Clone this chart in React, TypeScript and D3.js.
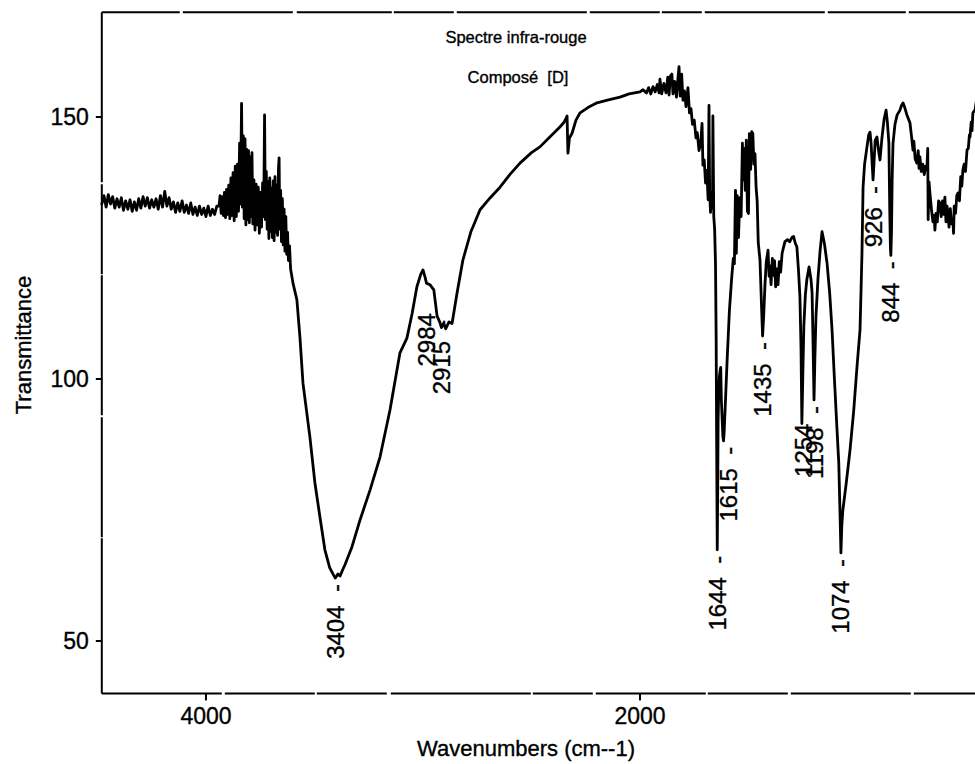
import React from 'react';
import * as d3 from 'd3';

// Transmittance spectrum, [wavenumber cm-1, transmittance], high to low wavenumber.
const baselineRegion: [number, number][] = [
  [4480, 133.4], [4470, 135.0], [4460, 132.8], [4450, 135.2], [4440, 133.4], [4430, 134.8],
  [4420, 132.6], [4410, 134.4], [4400, 132.8], [4390, 134.6], [4380, 132.2], [4370, 134.0],
  [4360, 132.4], [4350, 134.2], [4340, 132.0], [4330, 133.8], [4320, 132.2], [4310, 134.4],
  [4300, 132.6], [4290, 134.8], [4280, 133.0], [4270, 134.6], [4260, 132.6], [4250, 134.2],
  [4240, 132.8], [4230, 134.4], [4220, 132.4], [4210, 135.0], [4200, 132.8], [4190, 135.8],
  [4180, 133.0], [4170, 134.6], [4160, 132.4], [4150, 133.8], [4140, 131.8], [4130, 133.6],
  [4120, 132.0], [4110, 134.0], [4100, 131.8], [4090, 133.2], [4080, 131.6], [4070, 133.6],
  [4060, 131.4], [4050, 132.8], [4040, 131.2], [4030, 133.0], [4020, 131.4], [4010, 132.6],
  [4000, 131.0], [3990, 133.0], [3980, 131.2], [3970, 132.4], [3960, 131.4], [3950, 133.0],
];

const noisyRegion: [number, number][] = [
  [3940, 133.0], [3935, 135.0], [3930, 131.6], [3925, 134.8], [3920, 131.2], [3915, 135.6],
  [3910, 130.8], [3905, 136.2], [3900, 131.4], [3895, 137.0], [3890, 130.6], [3885, 138.4],
  [3880, 131.2], [3875, 139.4], [3870, 130.2], [3865, 140.6], [3860, 131.0], [3855, 141.0],
  [3850, 132.0], [3845, 145.0], [3841, 133.4], [3836, 152.6], [3832, 132.8], [3828, 146.4],
  [3824, 130.6], [3820, 145.8], [3816, 129.4], [3812, 143.8], [3808, 130.4], [3804, 143.6],
  [3800, 129.8], [3796, 142.4], [3792, 131.0], [3788, 143.2], [3784, 129.6], [3779, 138.0],
  [3774, 128.4], [3769, 137.2], [3764, 129.4], [3759, 136.6], [3754, 127.8], [3749, 135.6],
  [3744, 129.0], [3739, 137.4], [3734, 131.0], [3730, 150.4], [3726, 130.4], [3722, 139.6],
  [3718, 128.6], [3714, 137.6], [3710, 126.8], [3706, 138.4], [3702, 128.2], [3698, 136.4],
  [3694, 127.0], [3690, 137.8], [3686, 126.4], [3682, 138.6], [3678, 128.0], [3674, 137.0],
  [3670, 127.4], [3666, 140.0], [3663, 142.2], [3660, 128.6], [3656, 136.0], [3652, 126.2],
  [3648, 134.4], [3644, 125.6], [3640, 132.4], [3636, 124.4], [3632, 131.0], [3628, 123.8],
  [3624, 128.0], [3620, 122.6], [3615, 125.4], [3610, 121.0],
];

const ohBand: [number, number][] = [
  [3599, 118.3], [3581, 115.1], [3567, 108.0], [3553, 99.2], [3521, 88.9], [3498, 80.2],
  [3475, 73.7], [3452, 67.4], [3430, 64.0], [3415, 62.8], [3404, 62.0], [3392, 62.8],
  [3382, 62.4], [3370, 63.6], [3359, 64.6], [3327, 68.0], [3290, 73.1], [3244, 78.8],
  [3198, 85.1], [3152, 94.1], [3106, 105.0], [3074, 107.8], [3050, 112.5], [3028, 117.6],
  [3010, 120.0], [3000, 120.8], [2990, 119.4], [2984, 118.3], [2968, 118.0], [2950, 117.0],
  [2935, 112.0], [2922, 110.8], [2915, 109.8], [2905, 110.6], [2895, 109.6], [2880, 110.9],
  [2866, 110.6], [2843, 116.4], [2816, 122.7], [2780, 128.0], [2737, 132.3], [2690, 134.6],
  [2645, 136.6], [2600, 139.0], [2553, 141.2], [2500, 143.2], [2461, 144.3], [2420, 146.0],
  [2369, 148.1], [2350, 149.0], [2340, 149.8], [2336, 150.2], [2332, 143.1], [2325, 146.0],
  [2313, 146.9], [2295, 149.4], [2276, 150.8], [2240, 151.8], [2198, 152.7], [2150, 153.2],
  [2092, 153.8], [2050, 154.4], [2000, 154.8],
];

const carbonylRegion: [number, number][] = [
  [1986, 155.2], [1970, 154.6], [1960, 155.6], [1950, 154.4], [1940, 155.8], [1930, 154.8],
  [1920, 156.2], [1912, 154.6], [1908, 157.2], [1900, 154.4], [1890, 156.4], [1880, 154.6],
  [1872, 157.6], [1866, 154.2], [1860, 157.8], [1853, 158.2], [1848, 154.4], [1840, 156.8],
  [1832, 153.8], [1826, 157.0], [1820, 159.6], [1815, 154.0], [1808, 158.2], [1802, 153.2],
  [1795, 155.0], [1788, 152.0], [1779, 155.6], [1772, 150.8], [1765, 151.6], [1758, 148.6],
  [1750, 149.4], [1742, 146.0], [1736, 147.0], [1728, 143.6], [1720, 145.0], [1714, 148.8],
  [1710, 140.8], [1704, 141.8], [1698, 137.4], [1692, 139.8], [1686, 134.2], [1682, 152.2],
  [1679, 136.0], [1675, 131.8], [1670, 135.6], [1666, 132.6], [1664, 150.2], [1660, 131.0],
  [1656, 128.6], [1652, 122.0], [1649, 108.0], [1647, 90.0], [1645, 75.0], [1644, 67.4],
  [1642, 78.0], [1640, 92.0], [1637, 98.0], [1634, 100.5], [1630, 101.8], [1628, 102.2],
  [1625, 96.0], [1621, 92.0], [1618, 89.0], [1615, 88.2], [1612, 90.0], [1606, 96.0],
  [1598, 104.0], [1588, 113.0], [1578, 119.0], [1570, 123.0],
];

const fingerprintRegion: [number, number][] = [
  [1565, 122.0], [1560, 136.0], [1556, 124.0], [1552, 135.0], [1546, 127.0], [1540, 134.6],
  [1534, 131.0], [1528, 145.0], [1524, 138.0], [1520, 144.0], [1515, 136.0], [1510, 145.6],
  [1505, 132.0], [1500, 131.6], [1496, 146.8], [1490, 140.0], [1485, 147.2], [1480, 146.8],
  [1475, 141.0], [1470, 143.0], [1465, 136.6], [1460, 134.0], [1455, 126.0], [1447, 122.7],
  [1440, 114.0], [1435, 108.2], [1430, 112.0], [1424, 118.0], [1418, 122.4], [1410, 124.6],
  [1405, 119.6], [1401, 121.6], [1396, 118.0], [1390, 123.0], [1385, 119.8], [1380, 122.6],
  [1375, 117.6], [1369, 121.0], [1364, 118.0], [1358, 122.4], [1352, 120.4], [1345, 124.0],
  [1338, 125.2], [1332, 126.2], [1320, 126.6], [1310, 126.2], [1300, 127.0], [1292, 127.2],
  [1285, 126.0], [1277, 125.2], [1270, 121.0], [1263, 115.7], [1258, 106.0], [1254, 91.5],
  [1250, 100.0], [1245, 110.0], [1238, 116.0], [1231, 119.0], [1221, 121.4], [1212, 119.0],
  [1207, 116.5], [1203, 108.0], [1198, 96.0], [1194, 104.0], [1189, 112.0], [1180, 119.0],
  [1170, 124.5], [1161, 128.1], [1150, 125.8], [1138, 122.1], [1126, 116.5], [1115, 109.4],
  [1104, 100.0], [1092, 90.3], [1084, 84.0], [1078, 74.0], [1074, 66.8], [1070, 72.0],
  [1065, 75.0], [1050, 80.0], [1032, 86.5], [1015, 94.0], [1000, 102.3], [986, 109.4],
  [977, 124.1], [972, 136.6], [965, 141.0], [954, 144.3], [946, 146.6], [940, 147.1],
  [935, 145.0], [930, 141.0], [926, 138.0], [922, 141.0], [916, 145.6], [908, 146.2],
  [902, 144.0], [894, 141.8], [885, 146.0], [875, 149.6], [866, 151.3], [860, 149.0],
  [853, 145.0], [849, 132.0], [846, 125.0], [844, 123.6], [841, 128.0], [838, 138.0],
  [834, 145.0], [825, 148.6], [815, 150.4], [802, 151.3], [795, 152.2], [788, 152.7],
];

const lowRegion: [number, number][] = [
  [780, 151.8], [770, 150.4], [756, 148.9], [748, 146.0], [742, 143.7], [738, 145.4],
  [732, 142.0], [724, 141.2], [718, 143.6], [714, 140.2], [710, 142.4], [704, 139.6],
  [697, 141.0], [690, 139.0], [684, 140.6], [678, 139.9], [674, 144.0], [672, 130.4],
  [668, 137.6], [664, 135.5], [657, 132.4], [650, 130.0], [644, 131.2], [641, 128.4],
  [636, 131.6], [630, 130.0], [624, 134.0], [618, 133.6], [612, 131.0], [606, 134.0],
  [600, 131.4], [595, 134.7], [590, 130.0], [585, 133.0], [581, 131.7], [576, 129.0],
  [570, 132.5], [564, 129.6], [558, 130.3], [555, 127.8], [552, 133.0], [546, 131.6],
  [540, 135.0], [535, 135.5], [528, 134.0], [522, 138.6], [517, 136.8], [512, 139.9],
  [506, 141.0], [500, 139.6], [493, 143.7], [487, 144.0], [482, 146.6], [479, 146.2],
  [474, 149.0], [470, 147.4], [466, 150.8], [462, 151.0], [456, 151.3], [450, 153.0],
  [440, 154.0],
];

const spectrum: [number, number][] = [
  ...baselineRegion, ...noisyRegion, ...ohBand, ...carbonylRegion, ...fingerprintRegion, ...lowRegion,
];

// Annotated absorption bands
const peakWavenumbers = [3404, 2984, 2915, 1644, 1615, 1435, 1254, 1198, 1074, 926, 844];
const peakWithDash = [true, false, true, true, true, true, false, true, true, true, true];

const yTicks = [50, 100, 150];
const xTicks = [4000, 2000];

const W = 975;
const H = 764;

const x = d3.scaleLinear().domain([4480, 400]).range([101.8, 987.2]);
const y = d3.scaleLinear().domain([40, 170]).range([693.4, 12.2]);

const line = d3
  .line<[number, number]>()
  .x((d) => x(d[0]))
  .y((d) => y(d[1]))
  .curve(d3.curveLinear);

// per-label placement tweaks (px)
const labelShift: Record<number, { dx?: number; dy?: number }> = {
  2984: { dy: 24 },
  2915: { dy: -14 },
  1615: { dx: 5 },
  1254: { dx: 2, dy: -6 },
};

const sans = '"Liberation Sans", Arial, Helvetica, sans-serif';
// light outline thickens glyphs a touch, like a photocopied plot
const inked = { stroke: '#000', strokeWidth: 0.35 };

export default function App() {
  const left = x(4480);
  const top = y(170);
  const bottom = y(40);
  return (
    <div style={{ position: 'fixed', left: 0, top: 0 }}>
      <svg width={W} height={H} viewBox={`0 0 ${W} ${H}`} style={{ display: 'block', background: '#fff' }}>
        {/* frame */}
        <g stroke="#000" strokeWidth={2} fill="none">
          <line x1={left} y1={top} x2={W + 5} y2={top} strokeDasharray="78 3 110 4 95 2 60 3 130 3 70 2 40 3 120 3" />
          <line x1={left} y1={bottom} x2={W + 5} y2={bottom} strokeDasharray="120 3 90 2 70 4 140 2 60 3 110 2 80 3" />
          <line x1={left} y1={top} x2={left} y2={bottom} strokeDasharray="170 2 90 1 140 2 120 1 180 2" />
        </g>

        {/* y ticks */}
        <g>
          {yTicks.map((t) => (
            <g key={t}>
              <line x1={left - 6} x2={left} y1={y(t)} y2={y(t)} stroke="#000" strokeWidth={2} />
              <text x={left - 13} y={y(t)} dy="0.35em" textAnchor="end" fontFamily={sans} fontSize={23} {...inked}>
                {t}
              </text>
            </g>
          ))}
        </g>

        {/* x ticks */}
        <g>
          {xTicks.map((t) => (
            <g key={t}>
              <line x1={x(t)} x2={x(t)} y1={bottom} y2={bottom + 7} stroke="#000" strokeWidth={2} />
              <text x={x(t)} y={bottom + 31} textAnchor="middle" fontFamily={sans} fontSize={23} {...inked}>
                {t}
              </text>
            </g>
          ))}
        </g>

        {/* axis titles */}
        <text
          transform={`translate(31, 345) rotate(-90)`}
          textAnchor="middle"
          fontFamily={sans}
          fontSize={22}
          {...inked}
        >
          Transmittance
        </text>
        <text x={526} y={756} textAnchor="middle" fontFamily={sans} fontSize={22} {...inked}>
          Wavenumbers (cm--1)
        </text>

        {/* title */}
        <text x={516} y={43} textAnchor="middle" fontFamily={sans} fontSize={16.5} {...inked}>
          Spectre infra-rouge
        </text>
        <text x={518} y={83} textAnchor="middle" fontFamily={sans} fontSize={16.5} style={{ whiteSpace: 'pre' }} {...inked}>
          {'Composé  [D]'}
        </text>

        {/* spectrum */}
        <path
          d={line(spectrum) ?? ''}
          fill="none"
          stroke="#000"
          strokeWidth={2.8}
          strokeLinejoin="round"
          strokeLinecap="round"
        />

        {/* band labels */}
        <g fontFamily={sans} fontSize={24} {...inked}>
          {peakWavenumbers.map((wn, i) => {
            const pt = spectrum.find((d) => d[0] === wn);
            const t = pt ? pt[1] : 100;
            const s = labelShift[wn] || {};
            const px = x(wn) + 8.5 + (s.dx || 0);
            const py = y(t) + 6 + (s.dy || 0);
            return (
              <text
                key={wn}
                transform={`translate(${px}, ${py}) rotate(-90)`}
                textAnchor="end"
                style={{ whiteSpace: 'pre' }}
              >
                {peakWithDash[i] ? `${wn}  -` : `${wn}`}
              </text>
            );
          })}
        </g>
      </svg>
    </div>
  );
}
